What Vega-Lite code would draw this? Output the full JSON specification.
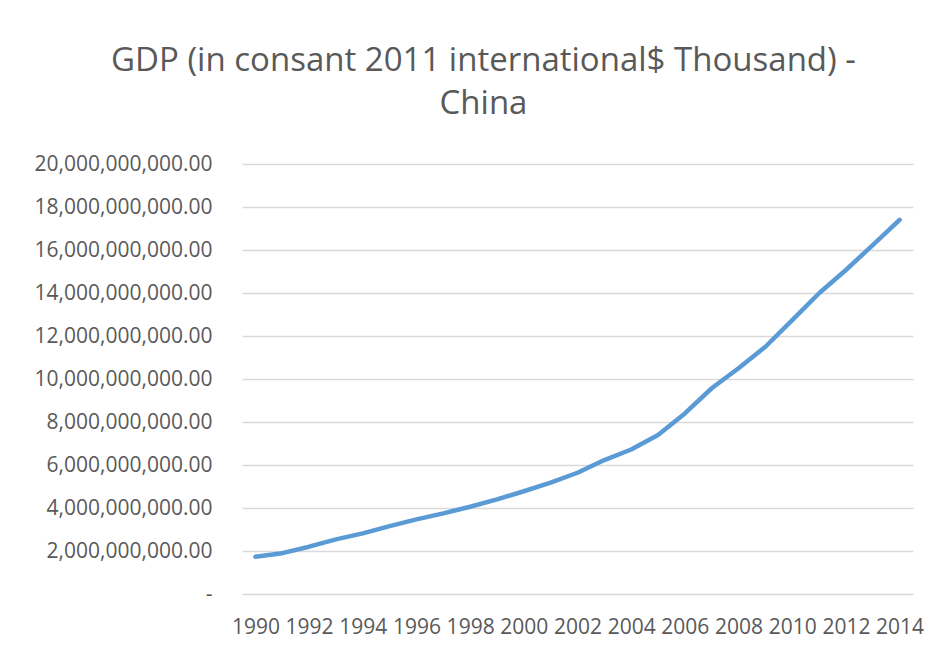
{
  "$schema": "https://vega.github.io/schema/vega-lite/v6.json",
  "autosize": "none",
  "width": 671,
  "height": 430,
  "padding": {"left": 242, "top": 164, "right": 28, "bottom": 58},
  "background": "#ffffff",
  "title": {
    "text": ["GDP (in consant 2011 international$ Thousand) -", "China"],
    "anchor": "middle",
    "frame": "group",
    "dx": -94,
    "offset": 32,
    "font": "Open Sans",
    "fontSize": 33,
    "fontWeight": "normal",
    "color": "#595959",
    "lineHeight": 43
  },
  "data": {
    "values": [
      {"year": 1990, "gdp": 1730000000},
      {"year": 1991, "gdp": 1900000000},
      {"year": 1992, "gdp": 2200000000},
      {"year": 1993, "gdp": 2540000000},
      {"year": 1994, "gdp": 2820000000},
      {"year": 1995, "gdp": 3160000000},
      {"year": 1996, "gdp": 3470000000},
      {"year": 1997, "gdp": 3750000000},
      {"year": 1998, "gdp": 4060000000},
      {"year": 1999, "gdp": 4400000000},
      {"year": 2000, "gdp": 4780000000},
      {"year": 2001, "gdp": 5180000000},
      {"year": 2002, "gdp": 5640000000},
      {"year": 2003, "gdp": 6230000000},
      {"year": 2004, "gdp": 6720000000},
      {"year": 2005, "gdp": 7400000000},
      {"year": 2006, "gdp": 8400000000},
      {"year": 2007, "gdp": 9570000000},
      {"year": 2008, "gdp": 10500000000},
      {"year": 2009, "gdp": 11500000000},
      {"year": 2010, "gdp": 12740000000},
      {"year": 2011, "gdp": 13990000000},
      {"year": 2012, "gdp": 15070000000},
      {"year": 2013, "gdp": 16230000000},
      {"year": 2014, "gdp": 17400000000}
    ]
  },
  "mark": {"type": "line", "color": "#5b9bd5", "strokeWidth": 4.5, "strokeCap": "round", "strokeJoin": "round"},
  "encoding": {
    "x": {
      "field": "year",
      "type": "quantitative",
      "scale": {"domain": [1989.5, 2014.5], "nice": false, "zero": false},
      "axis": {
        "title": null,
        "values": [1990, 1992, 1994, 1996, 1998, 2000, 2002, 2004, 2006, 2008, 2010, 2012, 2014],
        "format": "d",
        "grid": false,
        "domain": false,
        "ticks": false,
        "labelPadding": 22,
        "labelFont": "Open Sans",
        "labelFontSize": 21,
        "labelColor": "#595959",
        "labelFlush": false,
        "labelOverlap": false
      }
    },
    "y": {
      "field": "gdp",
      "type": "quantitative",
      "scale": {"domain": [0, 20000000000], "nice": false},
      "axis": {
        "title": null,
        "values": [0, 2000000000, 4000000000, 6000000000, 8000000000, 10000000000, 12000000000, 14000000000, 16000000000, 18000000000, 20000000000],
        "labelExpr": "datum.value == 0 ? '-\u00a0\u00a0' : format(datum.value, ',.2f')",
        "grid": true,
        "gridColor": "#d9d9d9",
        "gridWidth": 1.5,
        "domain": false,
        "ticks": false,
        "labelPadding": 30,
        "labelFont": "Open Sans",
        "labelFontSize": 21,
        "labelColor": "#595959",
        "labelOverlap": false
      }
    }
  },
  "config": {"view": {"stroke": null}}
}
